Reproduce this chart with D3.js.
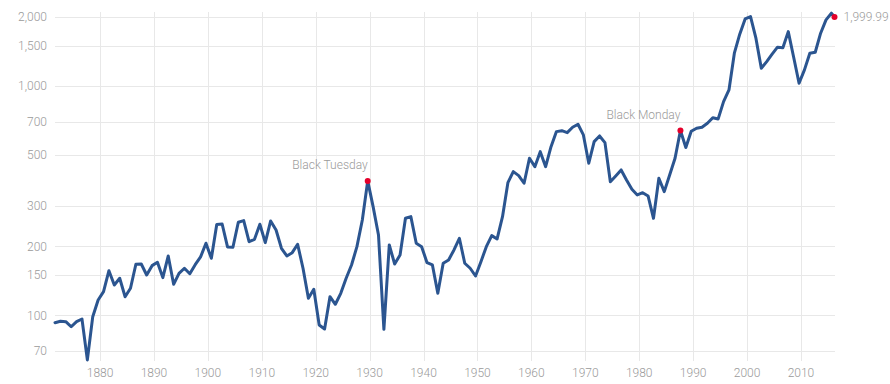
<!DOCTYPE html>
<html>
<head>
<meta charset="utf-8">
<script src="https://cdn.jsdelivr.net/npm/d3@7"></script>
<style>
  html, body { margin: 0; padding: 0; background: #fff; }
  svg { display: block; }
  text { font-family: Roboto, "Open Sans", sans-serif; font-weight: 300; }
</style>
</head>
<body>
<svg id="chart" width="890" height="384"></svg>
<script>
// ---- data ----
const startYear = 1871;
const annualValues = [
  93, 94.3, 94, 89.3, 94, 96.5, 64, 98.8, 116.8, 127,            // 1871-1880
  156.7, 135.8, 145.3, 120.7, 131.4, 167.2, 167.6, 150.1, 164.9, 170.5, // 1881-1890
  146.2, 181.7, 136.7, 152.7, 160.6, 152, 166.5, 180, 206.4, 177.5,     // 1891-1900
  249, 250.5, 199, 198.3, 255, 259, 209.7, 214.8, 249.8, 207.7,         // 1901-1910
  258.2, 235.9, 196.3, 181.7, 187.8, 204.3, 160.6, 118.8, 130, 90.9,    // 1911-1920
  87.3, 120.7, 111.9, 124.9, 145.3, 166, 199.5, 260.8, 386, 298,        // 1921-1930
  224.4, 87, 203, 167.6, 183.5, 265.2, 269.6, 206.4, 199.5, 169.9,      // 1931-1940
  166, 125, 168.9, 174.6, 193, 217, 168.9, 160.6, 148.6, 171.6,         // 1941-1950
  199.5, 222.8, 215.5, 269.6, 379.3, 423.5, 406.9, 377, 484.5, 445.3,   // 1951-1960
  517.7, 445.3, 544.4, 633, 639, 626.7, 661.5, 681.7, 612.3, 460.9,     // 1961-1970
  572.4, 606, 566.7, 383, 405.7, 430.9, 389.7, 354.9, 335.2, 343,       // 1971-1980
  331.9, 265.2, 396.4, 346.5, 409.8, 484.5, 640, 540, 635, 655,         // 1981-1990
  661.5, 688.5, 728, 719, 855.5, 962, 1391, 1683, 1962, 2009,           // 1991-2000
  1617, 1196, 1278, 1377, 1477, 1470, 1727, 1336, 1029, 1176,           // 2001-2010
  1391, 1404, 1700, 1943, 2078                                          // 2011-2015
];
const lastDate = "2016-03-22";
const lastValue = 1999.99;
const events = [
  { year: 1929, label: "Black Tuesday" },
  { year: 1987, label: "Black Monday" }
];
const yTicks = [70, 100, 150, 200, 300, 500, 700, 1000, 1500, 2000];
const xTickYears = [1880, 1890, 1900, 1910, 1920, 1930, 1940, 1950, 1960, 1970, 1980, 1990, 2000, 2010];

// ---- build series ----
const series = annualValues.map((v, i) => ({ date: new Date(startYear + i, 7, 25), value: v }));
series.push({ date: d3.timeParse("%Y-%m-%d")(lastDate), value: lastValue });

// ---- layout ----
const svg = d3.select("#chart");
const plotLeft = 55, plotRight = 835, plotTop = 12, plotBottom = 361;

const x = d3.scaleTime()
  .domain([series[0].date, series[series.length - 1].date])
  .range([55, 834.5]);
const y = d3.scaleLog().domain([70, 2000]).range([351, 17]);

const grid = svg.append("g");
grid.selectAll("line.h").data(yTicks).join("line")
  .attr("x1", plotLeft).attr("x2", plotRight)
  .attr("y1", d => Math.round(y(d)) + 0.5).attr("y2", d => Math.round(y(d)) + 0.5)
  .attr("stroke", "#e8e8e8").attr("stroke-width", 1);
grid.selectAll("line.v").data(xTickYears).join("line")
  .attr("x1", d => Math.round(x(new Date(d, 0, 1))) + 0.5)
  .attr("x2", d => Math.round(x(new Date(d, 0, 1))) + 0.5)
  .attr("y1", plotTop).attr("y2", plotBottom)
  .attr("stroke", "#e8e8e8").attr("stroke-width", 1);

const fmt = d3.format(",");
svg.append("g").selectAll("text").data(yTicks).join("text")
  .attr("x", 47).attr("y", d => y(d))
  .attr("dy", "0.35em")
  .attr("text-anchor", "end")
  .attr("font-size", 12)
  .attr("fill", "#9a9a9a")
  .text(d => fmt(d));

svg.append("g").selectAll("text").data(xTickYears).join("text")
  .attr("x", d => x(new Date(d, 0, 1)))
  .attr("y", 377)
  .attr("text-anchor", "middle")
  .attr("font-size", 12)
  .attr("fill", "#9a9a9a")
  .text(d => d);

const line = d3.line().x(d => x(d.date)).y(d => y(d.value));
svg.append("path").datum(series)
  .attr("d", line)
  .attr("fill", "none")
  .attr("stroke", "#2b5590")
  .attr("stroke-width", 3)
  .attr("stroke-linejoin", "round")
  .attr("stroke-linecap", "round");

// event markers
events.forEach(ev => {
  const p = series[ev.year - startYear];
  const px = x(p.date), py = y(p.value);
  svg.append("circle").attr("cx", px).attr("cy", py).attr("r", 3).attr("fill", "#e4002b");
  svg.append("text").attr("x", px).attr("y", py - 12)
    .attr("text-anchor", "end").attr("font-size", 12).attr("fill", "#9a9a9a")
    .text(ev.label);
});

// last point
const last = series[series.length - 1];
svg.append("circle").attr("cx", x(last.date)).attr("cy", y(last.value)).attr("r", 3).attr("fill", "#e4002b");
svg.append("text").attr("x", x(last.date) + 9).attr("y", y(last.value))
  .attr("dy", "0.35em").attr("font-size", 12).attr("fill", "#9a9a9a")
  .text(d3.format(",.2f")(last.value));
</script>
</body>
</html>
